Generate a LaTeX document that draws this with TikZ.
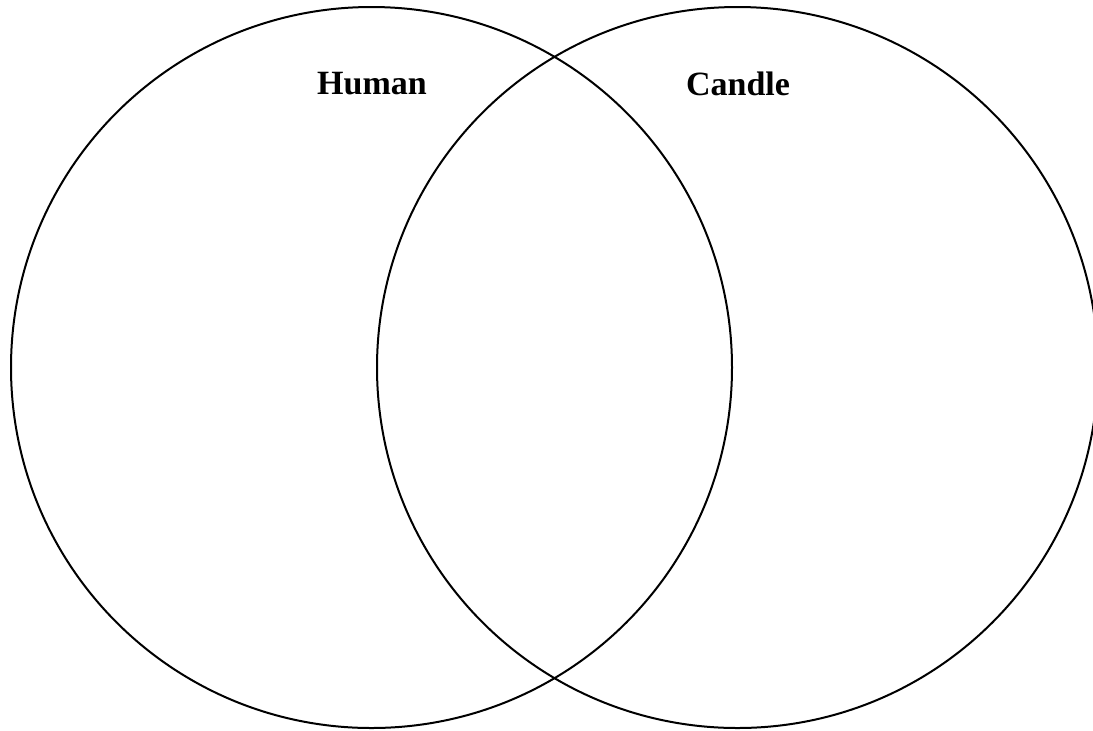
\documentclass[tikz,border=0pt]{standalone}
\usepackage{fontspec}
\setmainfont{Liberation Serif}
\usepackage{tikz}

\tikzset{
  ring/.style = {line width = 1pt, black},
  setlabel/.style = {font = \fontsize{17}{19}\selectfont\bfseries, inner sep = 0pt}
}

\begin{document}
\begin{tikzpicture}[x = 0.5pt, y = -0.5pt]
\useasboundingbox (0,0) rectangle (1093,730);
\clip (0,0) rectangle (1093,730);
% the two sets
\draw [ring] (371.5,367.5) circle [radius = 180.25pt];
\draw [ring] (737.5,367.5) circle [radius = 180.25pt];
% labels
\node [setlabel] (human) at (372,84) {Human};
\node [setlabel] (candle) at (738,84) {Candle};
\end{tikzpicture}
\end{document}
